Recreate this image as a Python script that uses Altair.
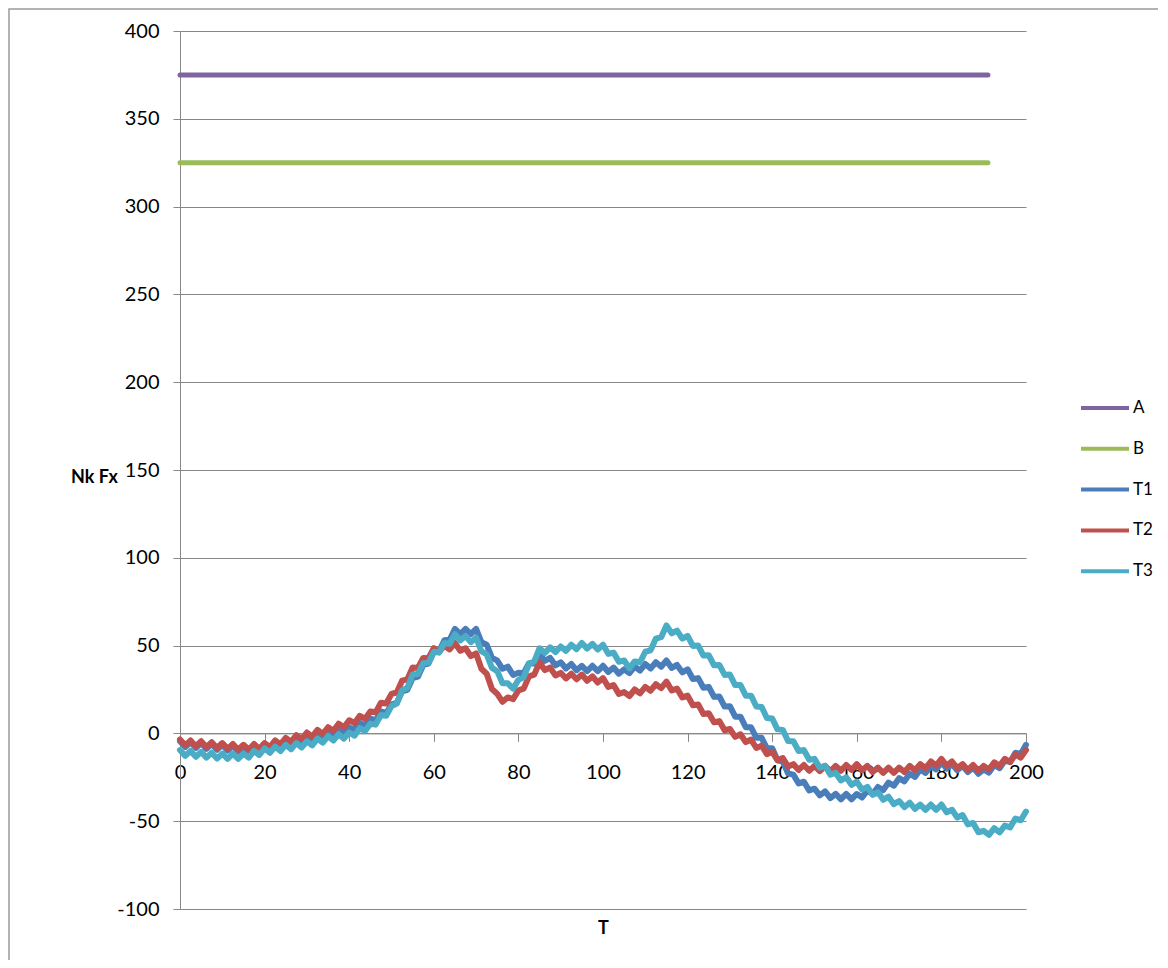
import altair as alt
import pandas as pd

# ---- data ----
SERIES = ["A", "B", "T1", "T2", "T3"]
COLORS = ["#8064A2", "#9BBB59", "#4A7EBB", "#C0504D", "#4BACC6"]

A_T = [0, 191]
A_VAL = [375, 375]
B_T = [0, 191]
B_VAL = [325, 325]

T_STEP = 1.25  # sample spacing along T for T1..T3

T1 = [
    -4.5, -7.8, -5, -8.3, -5.5, -8.8, -6, -9.3,
    -6.5, -9.8, -7, -10.3, -7.5, -10.3, -7, -9.8,
    -6.5, -9, -5.5, -8, -4.5, -7, -3.5, -6,
    -2.5, -4.8, -1, -3.3, 0.5, -1.8, 2, -0.3,
    3.5, 1.8, 6, 4.3, 8.5, 7.5, 12.5, 11.5,
    16.5, 17.3, 24, 24.8, 31.5, 32.3, 39, 39.8,
    46.5, 46.8, 53, 53.3, 59.5, 56.5, 59.5, 56.5,
    59.5, 52, 50.5, 43, 41.5, 36.8, 38, 33.3,
    34.5, 34.3, 40, 39.8, 45.5, 41.3, 43, 38.8,
    40.5, 37, 39.5, 36, 38.5, 35.5, 38.5, 35.5,
    38.5, 35, 37.5, 34, 36.5, 34.3, 38, 35.8,
    39.5, 37, 40.5, 38, 41.5, 37.3, 39, 34.8,
    36.5, 31, 31.5, 26, 26.5, 20.8, 21, 15.3,
    15.5, 9.5, 9.5, 3.5, 3.5, -2.5, -2.5, -8.5,
    -8.5, -15.3, -16, -22.8, -23.5, -28.5, -27.5, -32.5,
    -31.5, -35.3, -33, -36.8, -34.5, -37.5, -34.5, -37.5,
    -34.5, -36.5, -32.5, -34.5, -30.5, -32.3, -28, -29.8,
    -25.5, -27.3, -23, -24.8, -20.5, -22.5, -18.5, -20.5,
    -16.5, -20, -17.5, -21, -18.5, -22, -19.5, -23,
    -20.5, -22.3, -18, -19.8, -15.5, -16.3, -11, -11.8,
    -6.5,
]

T2 = [
    -3.5, -6.8, -4, -7.3, -4.5, -7.8, -5, -8.3,
    -5.5, -8.8, -6, -9.3, -6.5, -9.3, -6, -8.8,
    -5.5, -7.8, -4, -6.3, -2.5, -4.8, -1, -3.3,
    0.5, -1.8, 2, -0.3, 3.5, 1.5, 5.5, 3.5,
    7.5, 5.8, 10, 8.3, 12.5, 12, 17.5, 17,
    22.5, 23.3, 30, 30.8, 37.5, 37.3, 43, 42.8,
    48.5, 46.3, 50, 47.8, 51.5, 47, 48.5, 44,
    45.5, 36.8, 34, 25.3, 22.5, 18, 20.5, 19.5,
    24.5, 25.5, 32.5, 33.5, 40.5, 36, 37.5, 33,
    34.5, 31.3, 34, 30.8, 33.5, 30, 32.5, 29,
    31.5, 26.5, 27.5, 22.5, 23.5, 21.3, 25, 22.8,
    26.5, 24.3, 28, 25.8, 29.5, 24.5, 25.5, 20.5,
    21.5, 16, 16.5, 11, 11.5, 6.3, 7, 1.8,
    2.5, -2, -0.5, -5, -3.5, -8.3, -7, -11.8,
    -10.5, -15.3, -14, -18.8, -17.5, -20.8, -18, -21.3,
    -18.5, -21.5, -18.5, -21.5, -18.5, -21.3, -18, -20.8,
    -17.5, -21, -18.5, -22, -19.5, -22.5, -19.5, -22.5,
    -19.5, -22, -18.5, -21, -17.5, -19.8, -16, -18.3,
    -14.5, -18.3, -16, -19.8, -17.5, -20.8, -18, -21.3,
    -18.5, -20.5, -16.5, -18.5, -14.5, -16.3, -12, -13.8,
    -9.5,
]

T3 = [
    -9.5, -12.8, -10, -13.3, -10.5, -13.8, -11, -14.3,
    -11.5, -14.5, -11.5, -14.5, -11.5, -13.8, -10, -12.3,
    -8.5, -11, -7.5, -10, -6.5, -9, -5.5, -8,
    -4.5, -6.8, -3, -5.3, -1.5, -4, -0.5, -3,
    0.5, -1.3, 3, 1.3, 5.5, 5, 10.5, 10,
    15.5, 17, 24.5, 26, 33.5, 33.8, 40, 40.3,
    46.5, 46, 51.5, 51, 56.5, 53, 55.5, 52,
    54.5, 46.8, 45, 37.3, 35.5, 28.5, 28.5, 25.5,
    30.5, 32, 39.5, 41, 48.5, 45.8, 49, 46.3,
    49.5, 47, 50.5, 48, 51.5, 48.3, 51, 47.8,
    50.5, 45.3, 46, 40.8, 41.5, 37, 41, 40.5,
    46.5, 47.3, 54, 54.8, 61.5, 57, 58.5, 54,
    55.5, 49.8, 50, 44.3, 44.5, 38.8, 39, 33.3,
    33.5, 27.5, 27.5, 21.5, 21.5, 15.3, 15, 8.8,
    8.5, 2.3, 2, -4.3, -4.5, -10, -9.5, -15,
    -14.5, -19.5, -18.5, -23.5, -22.5, -26.8, -25, -29.3,
    -27.5, -32, -30.5, -35, -33.5, -37.8, -36, -40.3,
    -38.5, -42, -39.5, -43, -40.5, -43.5, -40.5, -43.5,
    -40.5, -45, -43.5, -48, -46.5, -51.8, -51, -56.3,
    -55.5, -57.8, -54, -56.3, -52.5, -53.5, -48.5, -49.5,
    -44.5,
]

Y_TICKS = [-100, -50, 0, 50, 100, 150, 200, 250, 300, 350, 400]
X_TICKS = [0, 20, 40, 60, 80, 100, 120, 140, 160, 180, 200]

# ---- build the long table ----
rows = []
for t, v in zip(A_T, A_VAL):
    rows.append({"T": t, "v": v, "s": "A"})
for t, v in zip(B_T, B_VAL):
    rows.append({"T": t, "v": v, "s": "B"})
for name, vals in (("T1", T1), ("T2", T2), ("T3", T3)):
    for i, v in enumerate(vals):
        rows.append({"T": i * T_STEP, "v": v, "s": name})
df = pd.DataFrame(rows)

W, H = 846, 878
PAD_L, PAD_T, PAD_R, PAD_B = 172, 23, 132, 51
GRID = "#878787"
FONT = "Lato"

x_enc = alt.X(
    "T:Q",
    scale=alt.Scale(domain=[0, 200], nice=False, zero=False),
    axis=alt.Axis(
        values=X_TICKS, offset=-175.6, grid=False,
        domainColor=GRID, tickColor=GRID, tickSize=8,
        labelFont=FONT, labelFontSize=20, labelColor="#000000",
        labelPadding=21, labelFlush=False, labelOverlap=False,
        labelExpr="'' + datum.value",
        title="T", titleFont=FONT, titleFontSize=18, titleFontWeight="bold",
        titleColor="#000000", titleY=195, titleBaseline="middle",
    ),
)
y_enc = alt.Y(
    "v:Q",
    scale=alt.Scale(domain=[-100, 400], nice=False, zero=False),
    axis=alt.Axis(
        values=Y_TICKS, grid=True, gridColor=GRID, gridWidth=1,
        domainColor=GRID, tickColor=GRID, tickSize=7,
        labelFont=FONT, labelFontSize=20, labelColor="#000000", labelPadding=14,
        labelExpr="'' + datum.value",
        title="Nk Fx", titleFont=FONT, titleFontSize=18, titleFontWeight="bold",
        titleColor="#000000", titleAngle=0, titleX=-86, titleY=446,
        titleAlign="center", titleBaseline="middle",
    ),
)
color_enc = alt.Color(
    "s:N",
    scale=alt.Scale(domain=SERIES, range=COLORS),
    legend=alt.Legend(
        title=None, orient="none", legendX=899, legendY=367,
        symbolType="stroke", symbolSize=2304, symbolStrokeWidth=4,
        clipHeight=20, rowPadding=20.8, padding=0, labelOffset=2,
        labelFont=FONT, labelFontSize=17, labelColor="#000000",
    ),
)

# thin grey outer frame of the chart area (left and top edges visible)
frame = alt.Chart(pd.DataFrame({"k": [0]})).mark_rect(
    fill=None, stroke="#9a9a9a", strokeWidth=1.5
).encode(
    x=alt.value(-PAD_L + 1),
    x2=alt.value(W + PAD_R + 50),
    y=alt.value(-PAD_T + 1),
    y2=alt.value(H + PAD_B + 50),
)

base = alt.Chart(df)
layers = [frame]
for name, sw in (("A", 5), ("B", 5), ("T1", 6), ("T2", 6), ("T3", 6)):
    layers.append(
        base.transform_filter(alt.datum.s == name)
        .mark_line(strokeWidth=sw, strokeJoin="round", strokeCap="round")
        .encode(x=x_enc, y=y_enc, color=color_enc)
    )

chart = (
    alt.layer(*layers)
    .properties(
        width=W, height=H,
        autosize=alt.AutoSizeParams(type="none"),
        padding={"left": PAD_L, "top": PAD_T, "right": PAD_R, "bottom": PAD_B},
        background="#ffffff",
    )
    .configure_view(stroke=None)
)

chart.save("out.html", embed_options={"renderer": "svg", "actions": False})
